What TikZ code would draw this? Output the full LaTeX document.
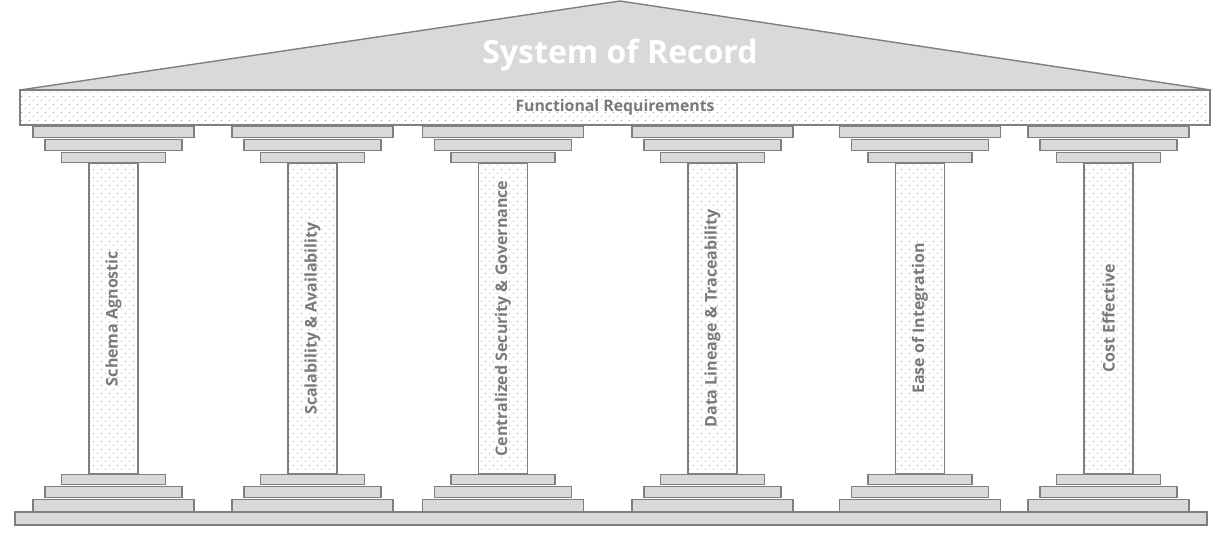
\documentclass[tikz,border=0pt]{standalone}
\usepackage{fontspec}
\setmainfont{Open Sans}
\usetikzlibrary{patterns, positioning}

% light dot texture for beam and shafts
\pgfdeclarepatternformonly{sorDots}{\pgfpointorigin}{\pgfqpoint{8pt}{8pt}}{\pgfqpoint{8pt}{8pt}}{%
  \pgfpathcircle{\pgfqpoint{2pt}{2pt}}{0.6pt}%
  \pgfpathcircle{\pgfqpoint{6pt}{6pt}}{0.6pt}%
  \pgfusepath{fill}}

\definecolor{slabfill}{HTML}{D9D9D9}
\definecolor{slabline}{HTML}{7F7F7F}
\definecolor{labelgray}{HTML}{7A7A7A}

\begin{document}
\begin{tikzpicture}[
  x=1pt, y=-1pt,
  slab/.style={
    draw=slabline, line width=1.4pt, fill=slabfill,
    inner sep=0pt, minimum height=11.5pt
  },
  dotbox/.style={
    draw=slabline, line width=1.4pt, pattern=sorDots, pattern color=slabline!90,
    inner sep=0pt
  },
  beamtext/.style={font=\fontsize{15.8}{18}\selectfont\bfseries, text=labelgray},
  coltext/.style={font=\fontsize{16}{18}\selectfont\bfseries, text=labelgray, rotate=90},
  titletext/.style={font=\fontsize{32}{38}\selectfont\bfseries, text=white}
]
\useasboundingbox (0,0) rectangle (1223,542);

% ----------------- ROOF -----------------
\coordinate (roof-l) at (20,90);
\coordinate (roof-t) at (620,1);
\coordinate (roof-r) at (1211,90);
\draw[slabline, line width=1.4pt, fill=slabfill] (roof-l) -- (roof-t) -- (roof-r) -- cycle;
\node[titletext] (title) at (620,55) {System of Record};

% ----------------- BEAM -----------------
\node[dotbox, minimum width=1190pt, minimum height=35pt, beamtext] (beam) at (615,107.5) {Functional Requirements};

% ----------------- COLUMNS -----------------
\foreach \cx/\lbl [count=\i] in {113.5/Schema Agnostic, 312.5/Scalability \& Availability,
    503/Centralized Security \& Governance, 712.5/Data Lineage \& Traceability,
    920/Ease of Integration, 1108.5/Cost Effective}{
  % capital
  \node[slab, minimum width=161pt] (cap-a\i) at (\cx,132) {};
  \node[slab, minimum width=137pt] (cap-b\i) at (\cx,145) {};
  \node[slab, minimum width=104pt, minimum height=10.5pt] (cap-c\i) at (\cx,157.5) {};
  % shaft
  \node[dotbox, minimum width=49pt, minimum height=311pt] (shaft\i) at (\cx,318.5) {};
  \node[coltext] (label\i) at (shaft\i) {\lbl};
  % base
  \node[slab, minimum width=104pt, minimum height=10.5pt] (base-a\i) at (\cx,479.5) {};
  \node[slab, minimum width=137pt] (base-b\i) at (\cx,492) {};
  \node[slab, minimum width=161pt] (base-c\i) at (\cx,505.5) {};
}

% ----------------- STYLOBATE -----------------
\node[slab, minimum width=1192pt, minimum height=13pt] (floor) at (611,518.5) {};

\end{tikzpicture}
\end{document}
